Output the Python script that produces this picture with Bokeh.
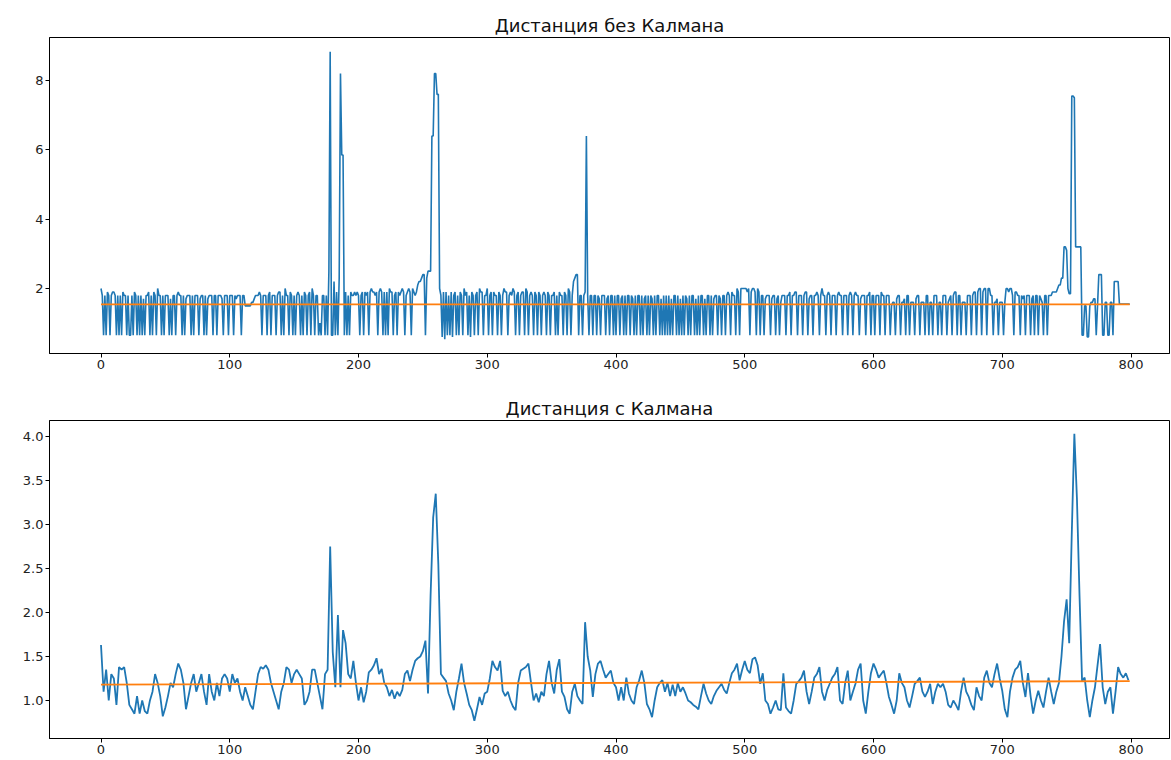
from bokeh.plotting import figure
from bokeh.layouts import column
from bokeh.models import FixedTicker, NumeralTickFormatter, Range1d
from bokeh.embed import file_html
from bokeh.resources import INLINE

# ---------------- data ----------------
raw_step = 1      # raw distance: every sample
kalman_step = 2   # Kalman output: every 2nd sample

raw_distance = [
    2.0, 1.8, 0.65, 1.8, 0.65, 1.9, 1.8, 0.65, 1.8, 1.9, 1.9, 1.8, 0.65, 1.8, 0.65, 1.8, 0.65, 1.9, 1.8, 1.8,
    0.65, 1.8, 0.65, 0.65, 1.8, 0.65, 1.9, 1.8, 0.65, 1.8, 0.65, 1.8, 0.65, 1.7, 0.65, 1.8, 1.8, 1.9, 0.65, 1.8,
    0.65, 1.9, 1.8, 0.65, 2.0, 1.8, 1.8, 0.65, 1.8, 0.65, 1.8, 1.8, 1.8, 0.65, 1.7, 0.65, 1.8, 1.8, 0.65, 1.8,
    1.9, 1.8, 1.8, 0.65, 1.8, 0.65, 1.7, 1.8, 1.8, 1.8, 0.65, 1.8, 0.65, 1.8, 1.8, 1.8, 0.65, 1.7, 1.8, 1.8,
    0.65, 1.8, 0.65, 1.7, 1.8, 1.8, 1.8, 0.65, 1.8, 1.8, 0.65, 1.8, 1.8, 1.8, 1.7, 0.65, 1.8, 1.8, 1.8, 0.65,
    1.8, 1.8, 1.8, 0.65, 1.8, 1.7, 1.8, 1.8, 1.8, 0.65, 1.8, 1.8, 1.5, 1.5, 1.5, 1.5, 1.5, 1.6, 1.6, 1.7,
    1.8, 1.8, 1.8, 1.9, 1.8, 0.65, 1.8, 1.8, 1.8, 0.65, 1.8, 1.9, 0.65, 1.8, 1.8, 1.8, 0.65, 1.8, 1.9, 1.9,
    0.65, 1.8, 0.65, 2.0, 1.8, 1.8, 0.65, 1.9, 1.8, 0.65, 1.8, 0.65, 1.8, 1.9, 1.8, 0.65, 1.8, 0.65, 1.9, 1.8,
    0.65, 1.8, 1.9, 0.65, 2.0, 1.8, 0.65, 1.8, 1.8, 0.65, 1.0, 0.65, 1.8, 1.8, 0.65, 1.8, 0.65, 2.5, 8.83, 0.65,
    0.65, 2.2, 0.65, 1.9, 0.65, 2.3, 8.2, 5.85, 5.85, 0.65, 1.9, 0.65, 1.8, 0.65, 1.9, 1.8, 1.8, 1.9, 1.8, 1.9,
    1.8, 0.65, 1.8, 1.9, 0.65, 1.9, 1.8, 1.9, 0.65, 1.9, 2.0, 1.9, 1.9, 1.8, 1.9, 0.65, 1.9, 2.0, 1.9, 0.65,
    1.9, 0.65, 1.9, 0.65, 2.0, 1.9, 1.9, 0.65, 1.8, 1.9, 0.65, 1.9, 1.8, 1.9, 2.0, 1.9, 0.65, 1.8, 1.9, 2.0,
    1.9, 0.65, 2.0, 1.9, 1.8, 1.9, 2.1, 2.2, 2.2, 2.3, 2.4, 2.4, 0.65, 2.3, 2.5, 2.5, 2.5, 6.4, 6.4, 8.2,
    8.2, 7.6, 7.6, 2.0, 1.8, 0.6, 1.9, 0.54, 1.9, 0.65, 1.8, 0.65, 1.9, 0.6, 1.8, 1.9, 0.65, 1.8, 0.65, 1.9,
    1.8, 0.65, 2.0, 1.8, 1.9, 0.65, 1.8, 0.6, 1.9, 1.8, 0.65, 1.8, 1.9, 0.65, 2.0, 1.9, 1.9, 0.65, 1.8, 1.8,
    2.0, 0.65, 1.8, 1.9, 0.65, 1.9, 1.8, 1.8, 0.65, 1.9, 1.8, 0.65, 1.8, 2.0, 1.9, 1.9, 0.65, 1.8, 1.9, 1.8,
    2.0, 1.9, 0.65, 1.8, 1.9, 0.65, 1.8, 1.9, 1.9, 0.65, 2.0, 1.9, 0.65, 1.8, 1.9, 1.8, 0.65, 1.9, 1.8, 0.65,
    1.9, 1.8, 0.65, 1.8, 1.9, 1.8, 0.65, 1.9, 1.8, 0.65, 1.8, 1.8, 1.9, 0.65, 1.8, 0.65, 1.9, 1.8, 1.8, 0.65,
    1.9, 1.8, 0.65, 2.0, 1.9, 0.65, 1.8, 2.2, 2.3, 2.4, 2.4, 0.65, 1.8, 1.8, 0.65, 1.8, 1.9, 6.4, 1.8, 0.65,
    1.8, 1.8, 0.65, 1.8, 1.8, 0.65, 1.8, 1.7, 0.65, 1.8, 1.8, 1.8, 0.65, 1.7, 1.8, 0.65, 1.8, 1.8, 0.65, 1.8,
    0.65, 1.8, 1.8, 0.65, 1.7, 1.8, 0.65, 1.8, 0.65, 1.8, 1.8, 0.65, 1.8, 1.7, 0.65, 1.8, 0.65, 1.8, 1.8, 0.65,
    1.8, 0.65, 1.7, 1.8, 0.65, 1.8, 0.65, 1.8, 1.7, 0.65, 1.8, 0.65, 1.8, 1.8, 0.65, 1.7, 0.65, 1.8, 0.65, 1.8,
    0.65, 1.8, 0.65, 1.7, 0.65, 1.8, 1.8, 0.65, 1.8, 0.65, 1.7, 0.65, 1.8, 0.65, 1.8, 1.7, 0.65, 1.8, 0.65, 1.8,
    1.8, 0.65, 1.7, 0.65, 1.8, 0.65, 1.8, 1.8, 0.65, 1.7, 0.65, 1.8, 1.8, 0.65, 1.8, 0.65, 1.7, 1.8, 1.8, 0.65,
    1.8, 1.7, 0.65, 1.8, 1.8, 0.65, 1.8, 1.9, 1.8, 0.65, 1.9, 1.8, 1.8, 0.65, 2.0, 1.9, 0.65, 2.0, 2.0, 2.0,
    2.0, 2.0, 1.9, 2.0, 0.65, 1.9, 2.0, 2.0, 1.9, 0.65, 2.0, 1.9, 0.65, 1.8, 1.8, 0.65, 1.7, 1.8, 1.8, 1.8,
    0.65, 1.7, 1.8, 1.8, 0.65, 1.7, 1.8, 0.65, 1.6, 1.8, 1.8, 1.8, 0.65, 1.8, 1.8, 1.9, 0.65, 1.8, 1.8, 1.9,
    1.9, 0.65, 1.8, 1.8, 1.8, 0.65, 1.8, 1.9, 1.9, 0.65, 1.7, 1.8, 1.8, 0.65, 1.8, 1.8, 1.9, 1.8, 0.65, 1.8,
    2.0, 1.8, 1.8, 0.65, 1.8, 1.9, 1.8, 0.65, 1.8, 1.8, 1.8, 0.65, 1.8, 1.9, 1.8, 1.8, 0.65, 1.8, 1.8, 1.8,
    0.65, 1.8, 1.9, 1.8, 0.65, 1.8, 1.9, 1.8, 1.8, 0.65, 1.7, 1.8, 1.8, 1.8, 0.65, 1.8, 1.8, 1.9, 0.65, 1.8,
    1.8, 0.65, 1.8, 1.8, 1.8, 0.65, 1.9, 1.8, 1.8, 0.65, 1.8, 1.8, 1.8, 0.65, 1.5, 1.6, 1.6, 0.65, 1.7, 1.8,
    1.8, 0.65, 1.6, 1.6, 1.7, 0.65, 1.8, 1.8, 0.65, 1.6, 1.6, 1.6, 0.65, 1.7, 1.8, 1.8, 0.65, 1.6, 1.6, 1.6,
    0.65, 1.8, 1.8, 0.65, 1.6, 1.6, 0.65, 1.8, 1.8, 1.8, 0.65, 1.6, 1.6, 0.65, 1.8, 1.8, 1.8, 0.65, 1.6, 1.7,
    1.8, 0.65, 1.8, 1.9, 1.9, 0.65, 1.8, 1.8, 0.65, 1.6, 1.6, 1.6, 0.65, 1.8, 1.8, 1.8, 0.65, 1.8, 1.9, 1.9,
    0.65, 1.9, 2.0, 2.0, 0.65, 1.9, 2.0, 2.0, 0.65, 2.0, 2.0, 1.8, 1.8, 0.65, 1.6, 1.6, 1.7, 0.65, 1.6, 1.6,
    1.6, 0.65, 1.6, 2.0, 2.0, 1.9, 2.0, 2.0, 1.8, 0.65, 1.9, 1.9, 1.8, 1.8, 0.65, 1.8, 1.7, 1.8, 0.65, 1.8,
    1.8, 1.8, 0.65, 1.7, 1.8, 0.65, 1.8, 1.8, 0.65, 1.8, 1.7, 1.6, 0.65, 1.8, 1.8, 0.65, 1.8, 1.8, 1.8, 1.9,
    1.9, 1.9, 1.9, 2.0, 2.1, 2.1, 2.3, 2.3, 3.2, 3.2, 3.1, 2.0, 1.85, 1.85, 7.55, 7.55, 7.5, 3.2, 3.2, 3.2,
    3.2, 3.2, 0.65, 0.65, 1.5, 1.5, 0.6, 0.6, 1.5, 1.6, 1.6, 1.7, 1.7, 0.65, 1.5, 2.4, 2.4, 2.4, 0.65, 0.65,
    1.6, 1.6, 0.65, 0.65, 1.6, 1.6, 0.65, 2.2, 2.2, 2.2, 2.2, 1.55, 1.55, 1.55, 1.55, 1.55, 1.55, 1.55, 1.55, 1.55,
]

kalman_distance = [
    1.63, 1.1, 1.35, 1.0, 1.3, 1.25, 0.95, 1.38, 1.35, 1.38,
    1.2, 0.95, 0.9, 0.85, 1.05, 0.85, 1.0, 0.88, 0.85, 1.0,
    1.1, 1.3, 1.2, 1.05, 0.82, 0.92, 1.05, 1.2, 1.15, 1.3,
    1.42, 1.35, 1.2, 0.9, 1.05, 1.2, 1.3, 1.1, 1.2, 1.3,
    1.1, 0.95, 1.3, 1.1, 1.0, 1.2, 1.05, 1.25, 1.3, 1.25,
    1.1, 1.3, 1.2, 1.25, 1.1, 1.0, 1.15, 1.05, 0.95, 0.9,
    1.1, 1.3, 1.38, 1.36, 1.4, 1.35, 1.2, 1.1, 1.0, 0.9,
    1.1, 1.2, 1.38, 1.35, 1.2, 1.3, 1.35, 1.3, 1.25, 0.95,
    1.0, 1.1, 1.35, 1.35, 1.2, 1.05, 0.9, 1.3, 1.35, 2.75,
    1.55, 1.15, 1.97, 1.15, 1.8, 1.65, 1.3, 1.25, 1.45, 1.2,
    1.0, 1.15, 0.98, 1.1, 1.32, 1.35, 1.4, 1.48, 1.3, 1.36,
    1.2, 1.15, 1.05, 1.12, 1.02, 1.1, 1.05, 1.12, 1.3, 1.34,
    1.22, 1.35, 1.45, 1.48, 1.5, 1.56, 1.68, 1.08, 2.2, 3.08,
    3.35, 2.55, 1.3, 1.26, 1.22, 1.08, 1.0, 0.89, 1.1, 1.25,
    1.42, 1.2, 1.08, 0.95, 0.89, 0.77, 0.9, 1.04, 0.95, 1.08,
    1.1, 1.25, 1.45, 1.38, 1.34, 1.45, 1.11, 1.05, 1.1, 1.0,
    0.93, 0.89, 1.2, 1.34, 1.36, 1.38, 1.42, 1.2, 1.0, 1.08,
    0.98, 1.1, 1.05, 1.3, 1.45, 1.2, 1.08, 1.35, 1.47, 1.1,
    1.04, 0.9, 0.85, 1.1, 1.19, 1.05, 1.0, 0.96, 1.89, 1.5,
    1.34, 1.04, 1.3, 1.42, 1.45, 1.35, 1.26, 1.3, 1.34, 1.2,
    1.15, 1.0, 1.15, 1.0, 1.26, 1.08, 1.0, 0.96, 1.15, 1.23,
    1.34, 1.2, 0.96, 0.9, 0.81, 1.0, 1.15, 1.2, 1.23, 1.1,
    1.2, 1.05, 1.18, 1.05, 1.2, 1.1, 1.15, 1.08, 1.0, 0.98,
    0.95, 0.93, 0.9, 1.05, 1.19, 1.08, 1.0, 0.96, 1.05, 1.11,
    1.15, 1.19, 1.12, 1.08, 1.2, 1.31, 1.35, 1.42, 1.23, 1.35,
    1.45, 1.35, 1.31, 1.47, 1.49, 1.4, 1.19, 1.31, 1.0, 0.96,
    0.85, 0.92, 1.0, 0.9, 0.89, 1.31, 0.92, 0.88, 0.85, 1.0,
    1.19, 1.22, 1.26, 1.34, 1.1, 0.96, 1.1, 1.26, 1.3, 1.38,
    1.1, 1.0, 1.12, 1.19, 1.26, 1.3, 1.38, 1.0, 0.96, 1.2,
    1.34, 1.0, 1.1, 1.19, 1.35, 1.42, 1.0, 0.85, 1.1, 1.31,
    1.42, 1.35, 1.26, 1.3, 1.34, 1.2, 1.04, 0.95, 0.85, 1.0,
    1.31, 1.2, 1.15, 1.0, 0.92, 1.05, 1.19, 1.22, 1.26, 1.1,
    1.04, 1.1, 1.19, 0.96, 1.1, 1.19, 1.15, 1.19, 1.1, 0.95,
    0.92, 1.0, 0.95, 0.89, 1.1, 1.26, 1.1, 1.04, 0.95, 0.89,
    1.15, 1.05, 1.0, 1.26, 1.34, 1.2, 1.15, 1.3, 1.42, 1.25,
    1.11, 0.9, 0.81, 1.1, 1.26, 1.35, 1.38, 1.45, 1.2, 1.04,
    1.31, 1.05, 0.85, 1.0, 1.11, 1.0, 0.92, 1.1, 1.26, 1.1,
    0.96, 1.1, 1.2, 1.5, 1.9, 2.15, 1.65, 2.9, 4.03, 3.3,
    2.2, 1.22, 1.26, 1.0, 0.81, 1.0, 1.15, 1.4, 1.64, 1.15,
    0.96, 1.1, 1.15, 0.85, 1.1, 1.38, 1.3, 1.26, 1.31, 1.23,
]

raw_x = [i * raw_step for i in range(len(raw_distance))]
kalman_x = [i * kalman_step for i in range(len(kalman_distance))]

# orange reference lines (start / end of the sample range)
ref_x = [0, 799]
raw_ref = [1.54, 1.54]
kalman_ref = [1.18, 1.22]

x_ticks = [0, 100, 200, 300, 400, 500, 600, 700, 800]
raw_y_ticks = [2, 4, 6, 8]
kalman_y_ticks = [1.0, 1.5, 2.0, 2.5, 3.0, 3.5, 4.0]

titles = ["Дистанция без Калмана", "Дистанция с Калмана"]

BLUE = "#1f77b4"
ORANGE = "#ff7f0e"
FONT = "DejaVu Sans"


def style(p, yticks):
    p.xgrid.visible = False
    p.ygrid.visible = False
    p.outline_line_color = "black"
    p.outline_line_width = 1
    p.background_fill_color = "white"
    p.border_fill_color = "white"
    p.title.text_font = FONT
    p.title.text_font_size = "18px"
    p.title.text_font_style = "normal"
    p.title.align = "center"
    p.title.text_color = "#111111"
    p.title.standoff = 3
    p.xaxis.ticker = FixedTicker(ticks=x_ticks)
    p.yaxis.ticker = FixedTicker(ticks=yticks)
    for ax in (p.xaxis, p.yaxis):
        ax.axis_line_color = "black"
        ax.major_tick_line_color = "black"
        ax.major_tick_out = 4
        ax.major_tick_in = 0
        ax.minor_tick_line_color = None
        ax.major_label_text_font = FONT
        ax.major_label_text_font_size = "13px"
        ax.major_label_text_color = "#222222"
        ax.major_label_standoff = 2


X_END = 829.9

p1 = figure(width=1171, height=374, title=titles[0],
            x_range=Range1d(-40, X_END), y_range=Range1d(0.125, 9.24),
            output_backend="svg", toolbar_location=None,
            min_border_left=49, min_border_right=2,
            min_border_top=37, min_border_bottom=21)
style(p1, raw_y_ticks)
p1.line(raw_x, raw_distance, line_color=BLUE, line_width=1.6)
p1.line(ref_x, raw_ref, line_color=ORANGE, line_width=1.8)

p2 = figure(width=1171, height=384, title=titles[1],
            x_range=Range1d(-40, X_END), y_range=Range1d(0.568, 4.182),
            output_backend="svg", toolbar_location=None,
            min_border_left=49, min_border_right=2,
            min_border_top=46, min_border_bottom=20)
style(p2, kalman_y_ticks)
p2.yaxis.formatter = NumeralTickFormatter(format="0.0")
p2.line(kalman_x, kalman_distance, line_color=BLUE, line_width=1.8)
p2.line(ref_x, kalman_ref, line_color=ORANGE, line_width=1.8)

layout = column(p1, p2, spacing=0)
open("out.html", "w").write(file_html(layout, INLINE))
